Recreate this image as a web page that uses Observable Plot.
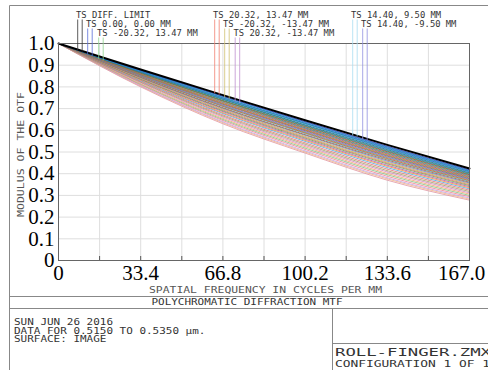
<!DOCTYPE html>
<html><head><meta charset="utf-8">
<script src="https://cdn.jsdelivr.net/npm/d3@7"></script>
<script src="https://cdn.jsdelivr.net/npm/@observablehq/plot@0.6"></script>
<style>body{margin:0;background:#fff}#chart svg{display:block}</style>
</head><body><div id="chart"></div>
<script>
// ---------- data ----------
const freqs = [0, 33.4, 66.8, 100.2, 133.6, 167];
const diffLimit = [1, 0.880, 0.762, 0.646, 0.533, 0.424];
const mtfAtZero = 1;
// field curves: values at 33.4, 66.8, 100.2, 133.6, 167 cycles/mm
const mtf334 = [.877,.875,.874,.872,.870,.869,.868,.866,.864,.863,.860,.859,.858,.856,.855,.852,.851,.849,.848,.845,.843,.841,.839,.836,.834,.831,.828,.825,.822,.819,.815,.812,.809,.805,.803,.800];
const mtf668 = [.757,.755,.751,.749,.746,.744,.742,.738,.736,.734,.730,.728,.724,.722,.720,.716,.714,.711,.709,.704,.701,.698,.694,.690,.686,.681,.677,.671,.666,.661,.655,.650,.645,.639,.635,.630];
const mtf1002 = [.640,.637,.633,.632,.629,.625,.622,.619,.616,.612,.610,.607,.603,.601,.598,.594,.591,.588,.585,.580,.577,.572,.568,.564,.559,.554,.549,.542,.536,.530,.524,.518,.512,.505,.500,.495];
const mtf1336 = [.526,.523,.520,.517,.514,.511,.507,.504,.501,.497,.494,.491,.487,.484,.481,.477,.474,.470,.467,.463,.458,.453,.449,.445,.439,.434,.428,.421,.414,.408,.401,.395,.388,.381,.376,.370];
const mtf167 = [.418,.415,.412,.410,.407,.404,.401,.398,.395,.392,.389,.386,.383,.380,.377,.374,.371,.368,.365,.361,.357,.353,.349,.345,.340,.335,.330,.324,.318,.312,.306,.300,.294,.288,.283,.278];

const xTicks = [0, 33.4, 66.8, 100.2, 133.6, 167];
const xTickLabels = ["0", "33.4", "66.8", "100.2", "133.6", "167.0"];
const xGrid = [16.7, 33.4, 50.1, 66.8, 83.5, 100.2, 116.9, 133.6, 150.3];
const yTicks = [0, 0.1, 0.2, 0.3, 0.4, 0.5, 0.6, 0.7, 0.8, 0.9, 1.0];
const yTickLabels = ["0", "0.1", "0.2", "0.3", "0.4", "0.5", "0.6", "0.7", "0.8", "0.9", "1.0"];

const legendLabels = ["TS DIFF. LIMIT", "TS 0.00, 0.00 MM", "TS -20.32, 13.47 MM",
  "TS 20.32, 13.47 MM", "TS -20.32, -13.47 MM", "TS 20.32, -13.47 MM",
  "TS 14.40, 9.50 MM", "TS 14.40, -9.50 MM"];
const xTitle = "SPATIAL FREQUENCY IN CYCLES PER MM";
const yTitle = "MODULUS OF THE OTF";
const plotTitle = "POLYCHROMATIC DIFFRACTION MTF";
const infoLines = ["SUN JUN 26 2016", "DATA FOR 0.5150 TO 0.5350 \u00b5m.", "SURFACE: IMAGE"];
const fileLines = ["ROLL-FINGER.ZMX", "CONFIGURATION 1 OF 1"];

// ---------- styles ----------
const curvePalette = ["#1f3fbf","#2a7fd4","#1a9a9a","#3050e0","#2aa0d0","#207050","#4070c0","#30a040",
  "#d03030","#2090b0","#b0a020","#8040b0","#e07020","#40b070","#c03070","#6080e0","#90a030","#e04040",
  "#40c0c0","#a06030","#7070d0","#c0c040","#e06080","#60b040","#b050b0","#f09030","#50a0e0","#e07070",
  "#a0a060","#d080c0","#f0a070","#80c080","#f08090","#c0a0e0","#f0b080","#e090a0"];
const legendColors = ["#333333","#5a6fd8","#8fd48f","#f08070","#d0c070","#c090d0","#a8dcf0","#9090e0"];

// ---------- build rows ----------
const fieldRows = [];
for (let c = mtf167.length - 1; c >= 0; c--) {
  const vals = [mtfAtZero, mtf334[c], mtf668[c], mtf1002[c], mtf1336[c], mtf167[c]];
  freqs.forEach((f, i) => fieldRows.push({curve: c, f, m: vals[i], color: curvePalette[c % curvePalette.length]}));
}
const diffRows = freqs.map((f, i) => ({f, m: diffLimit[i]}));
const xLabel = d => xTickLabels[xTicks.indexOf(d)];

const W = 488, H = 370;
const plot = Plot.plot({
  width: W, height: H,
  marginLeft: 58, marginRight: 19, marginTop: 43, marginBottom: 110,
  style: {fontFamily: "'Liberation Serif', serif", fontSize: "21px", color: "#000", background: "#fff"},
  x: {domain: [0, 167]},
  y: {domain: [0, 1]},
  color: {type: "identity"},
  marks: [
    Plot.gridX(xGrid, {stroke: "#dedede", strokeOpacity: 1}),
    Plot.gridY(yTicks.slice(1, -1), {stroke: "#dedede", strokeOpacity: 1}),
    Plot.line(fieldRows, {x: "f", y: "m", z: "curve", stroke: "color", strokeWidth: 0.8, curve: "monotone-x"}),
    Plot.line(diffRows, {x: "f", y: "m", stroke: "#000", strokeWidth: 2, curve: "monotone-x"}),
    Plot.ruleX(xGrid, {insetTop: 213, stroke: "#555"}),
    Plot.frame({stroke: "#666"}),
    Plot.axisX(xTicks.slice(0, -1), {tickSize: 0, tickPadding: 5, label: null, fill: "#000", tickFormat: xLabel}),
    Plot.axisX(xTicks.slice(-1), {tickSize: 0, tickPadding: 5, label: null, fill: "#000", tickFormat: xLabel, dx: -8}),
    Plot.axisY(yTicks, {tickSize: 0, tickPadding: 4, label: null, fill: "#000",
      tickFormat: d => yTickLabels[yTicks.indexOf(d)]})
  ]
});
document.getElementById("chart").appendChild(plot);

// ---------- Zemax-style annotations ----------
const svg = d3.select(plot);
const sx = plot.scale("x"), sy = plot.scale("y");
const X = v => sx.apply(v), Y = v => sy.apply(v);
const g = svg.append("g").attr("text-anchor", "start");
function mono(str, x, y, len, size, opts = {}) {
  const t = g.append("text").attr("x", x).attr("y", y).text(str)
    .attr("font-family", "'DejaVu Sans Mono', monospace").attr("font-size", size)
    .attr("fill", opts.fill || "#333").attr("textLength", len).attr("lengthAdjust", "spacingAndGlyphs")
    .attr("text-anchor", opts.anchor || "start");
  if (opts.transform) t.attr("transform", opts.transform);
  return t;
}
const line = (x1, y1, x2, y2, stroke = "#888", w = 1) =>
  g.append("line").attr("x1", x1).attr("y1", y1).attr("x2", x2).attr("y2", y2)
    .attr("stroke", stroke).attr("stroke-width", w);

// outer boxes
line(9.5, 5.5, W, 5.5);
line(9.5, 5.5, 9.5, H);
line(9.5, 296.5, W, 296.5);
line(9.5, 308.5, W, 308.5);
line(332.5, 308.5, 332.5, H);
line(332.5, 343.5, W, 343.5);

// axis titles
const fx0 = X(0), fx1 = X(167), fy0 = Y(0), fy1 = Y(1);
mono(xTitle, (fx0 + fx1) / 2 + 2, 293, 233, 9, {anchor: "middle", fill: "#555"});
mono(yTitle, 0, 0, 125, 9, {anchor: "middle", fill: "#555", transform: `translate(24,${(fy0 + fy1) / 2 + 3}) rotate(-90)`});
mono(plotTitle, 247, 305, 191, 9, {anchor: "middle"});

// footer
infoLines.forEach((s, i) => mono(s, 14, 325 + i * 8.5, s.length * 6.6, 8.5));
mono(fileLines[0], 335, 356, 156, 10);
mono(fileLines[1], 335, 367, 155, 9);

// legend with drop lines
const diffInterp = d3.scaleLinear().domain(freqs).range(diffLimit);
const legendPos = [[76, 0], [86, 1], [97, 2], [213, 0], [223, 1], [233.5, 2], [351, 0], [361, 1]];
legendLabels.forEach((s, i) => {
  const [lx, row] = legendPos[i];
  const base = 17.5 + row * 9;
  mono(s, lx, base, s.length * 5.3, 8);
  [1.7, 6.2].forEach(dx => {
    const px = lx + dx;
    const yEnd = Y(diffInterp(sx.invert(px))) + 1 + row;
    line(px, base + 2, px, yEnd, legendColors[i], 0.8);
  });
});
</script></body></html>
